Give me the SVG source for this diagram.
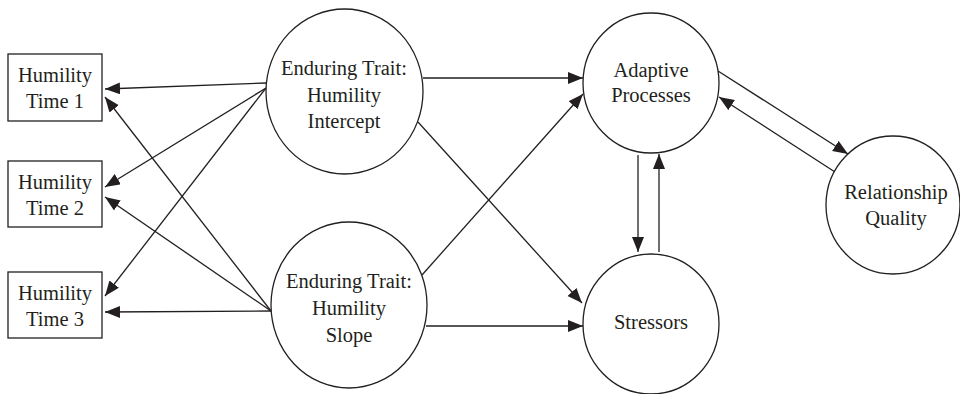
<svg xmlns="http://www.w3.org/2000/svg" width="960" height="394" viewBox="0 0 960 394">
<defs>
<marker id="ah" markerUnits="userSpaceOnUse" markerWidth="16" markerHeight="14" refX="15" refY="6" orient="auto">
<path d="M0,0 L15,6 L0,12 z" fill="#231f20"/>
</marker>
<style>
.n{fill:#fff;stroke:#231f20;stroke-width:1.3}
.t{font-family:'Liberation Serif','DejaVu Serif',serif;font-size:20.5px;fill:#231f20;text-anchor:middle}
.c line{stroke:#231f20;stroke-width:1.3;marker-end:url(#ah)}
</style>
</defs>
<rect width="960" height="394" fill="#fff"/>
<g class="c" id="connectors">
<line x1="266" y1="83" x2="105" y2="89"/>
<line x1="266" y1="88" x2="105" y2="187"/>
<line x1="266" y1="88" x2="105" y2="296"/>
<line x1="271" y1="311" x2="105" y2="97"/>
<line x1="271" y1="311" x2="105" y2="197"/>
<line x1="271" y1="311" x2="105" y2="312"/>
<line x1="423" y1="78" x2="583" y2="78"/>
<line x1="422" y1="275" x2="583" y2="94"/>
<line x1="418" y1="122" x2="582" y2="303"/>
<line x1="426" y1="326" x2="583" y2="326"/>
<line x1="638" y1="155" x2="638" y2="252"/>
<line x1="659" y1="252" x2="659" y2="154"/>
<line x1="718" y1="71" x2="848" y2="154"/>
<line x1="835" y1="172" x2="719" y2="97"/>
</g>
<g id="time1"><rect class="n" x="8" y="54" width="94" height="67"/><text class="t" font-family="Liberation Serif, serif" x="55" y="82">Humility</text><text class="t" font-family="Liberation Serif, serif" x="55" y="108">Time 1</text></g>
<g id="time2"><rect class="n" x="8" y="161" width="94" height="66"/><text class="t" font-family="Liberation Serif, serif" x="55" y="189">Humility</text><text class="t" font-family="Liberation Serif, serif" x="55" y="215">Time 2</text></g>
<g id="time3"><rect class="n" x="8" y="272" width="94" height="66"/><text class="t" font-family="Liberation Serif, serif" x="55" y="300">Humility</text><text class="t" font-family="Liberation Serif, serif" x="55" y="326">Time 3</text></g>
<g id="intercept"><ellipse class="n" cx="344.5" cy="91.5" rx="78.5" ry="82.5"/><text class="t" x="344" y="75">Enduring Trait:</text><text class="t" x="344" y="102">Humility</text><text class="t" x="344" y="128">Intercept</text></g>
<g id="slope"><ellipse class="n" cx="349" cy="305" rx="78" ry="83"/><text class="t" x="349" y="288">Enduring Trait:</text><text class="t" x="349" y="315">Humility</text><text class="t" x="349" y="342">Slope</text></g>
<g id="adaptive"><ellipse class="n" cx="651" cy="83" rx="68" ry="70"/><text class="t" x="651" y="77">Adaptive</text><text class="t" x="651" y="102">Processes</text></g>
<g id="stressors"><ellipse class="n" cx="651" cy="324" rx="68" ry="70"/><text class="t" x="651" y="329">Stressors</text></g>
<g id="relationship"><ellipse class="n" cx="893" cy="205" rx="67" ry="69"/><text class="t" x="896" y="199">Relationship</text><text class="t" x="896" y="225">Quality</text></g>
</svg>
